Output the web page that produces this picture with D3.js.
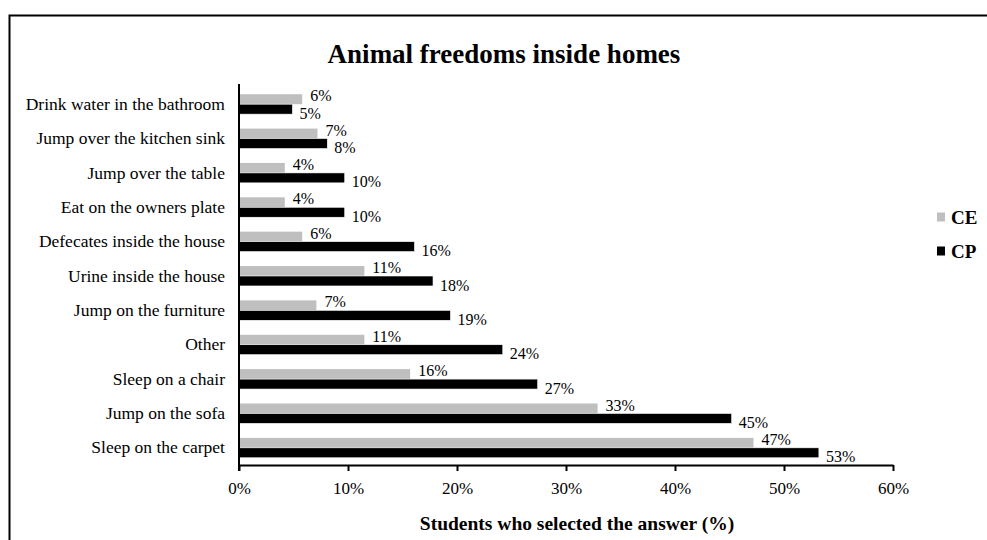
<!DOCTYPE html>
<html>
<head>
<meta charset="utf-8">
<script src="https://cdn.jsdelivr.net/npm/d3@7"></script>
<style>
  html, body { margin: 0; padding: 0; background: #fff; }
  svg { display: block; }
  text { font-family: "Liberation Serif", "Times New Roman", serif; fill: #000; }
</style>
</head>
<body>
<svg id="chart" width="987" height="540"></svg>
<script>
const categories = [
  "Drink water in the bathroom",
  "Jump over the kitchen sink",
  "Jump over the table",
  "Eat on the owners plate",
  "Defecates inside the house",
  "Urine inside the house",
  "Jump on the furniture",
  "Other",
  "Sleep on a chair",
  "Jump on the sofa",
  "Sleep on the carpet"
];
const seriesNames = ["CE", "CP"];
const valuesCE = [5.8, 7.2, 4.2, 4.2, 5.8, 11.5, 7.1, 11.5, 15.7, 32.9, 47.2];
const valuesCP = [4.9, 8.1, 9.7, 9.7, 16.1, 17.8, 19.4, 24.2, 27.4, 45.2, 53.2];
const labelsCE = ["6%", "7%", "4%", "4%", "6%", "11%", "7%", "11%", "16%", "33%", "47%"];
const labelsCP = ["5%", "8%", "10%", "10%", "16%", "18%", "19%", "24%", "27%", "45%", "53%"];
const xTicks = [0, 10, 20, 30, 40, 50, 60];
const tickLabels = ["0%", "10%", "20%", "30%", "40%", "50%", "60%"];
const colors = { CE: "#bfbfbf", CP: "#000000" };

const svg = d3.select("#chart");

// outer frame
svg.append("path")
  .attr("d", "M9.5,540 L9.5,15.5 L987,15.5")
  .attr("fill", "none").attr("stroke", "#000").attr("stroke-width", 2);

const pLeft = 239, pRight = 893, pTop = 87, pBottom = 465;

const x = d3.scaleLinear().domain([0, 60]).range([pLeft, pRight]);
const y = d3.scaleBand().domain(categories).range([pTop, pBottom]).paddingInner(0.42).paddingOuter(0.21);
const sub = d3.scaleBand().domain(seriesNames).range([0, y.bandwidth()]);

// title
svg.append("text")
  .attr("x", 504).attr("y", 63)
  .attr("text-anchor", "middle")
  .attr("font-size", 27).attr("font-weight", "bold")
  .text("Animal freedoms inside homes");

const rows = categories.map((c, i) => ({
  cat: c, ce: valuesCE[i], cp: valuesCP[i], lce: labelsCE[i], lcp: labelsCP[i]
}));

const g = svg.append("g");

// bars
g.selectAll("rect.ce").data(rows).join("rect")
  .attr("class", "ce")
  .attr("x", x(0))
  .attr("y", d => y(d.cat) + sub("CE"))
  .attr("width", d => x(d.ce) - x(0))
  .attr("height", sub.bandwidth())
  .attr("fill", colors.CE);

g.selectAll("rect.cp").data(rows).join("rect")
  .attr("class", "cp")
  .attr("x", x(0))
  .attr("y", d => y(d.cat) + sub("CP"))
  .attr("width", d => x(d.cp) - x(0))
  .attr("height", sub.bandwidth())
  .attr("fill", colors.CP)
  .attr("stroke", "#fff").attr("stroke-width", 0.6);

// value labels
g.selectAll("text.lce").data(rows).join("text")
  .attr("class", "lce")
  .attr("x", d => x(d.ce) + 8)
  .attr("y", d => y(d.cat) + sub("CE") + sub.bandwidth() / 2 - 3.5)
  .attr("dy", "0.35em")
  .attr("font-size", 16)
  .text(d => d.lce);

g.selectAll("text.lcp").data(rows).join("text")
  .attr("class", "lcp")
  .attr("x", d => x(d.cp) + 7)
  .attr("y", d => y(d.cat) + sub("CP") + sub.bandwidth() / 2 + 4)
  .attr("dy", "0.35em")
  .attr("font-size", 16)
  .text(d => d.lcp);

// x axis
const xAxis = d3.axisBottom(x)
  .tickValues(xTicks)
  .tickFormat((d, i) => tickLabels[i])
  .tickSizeInner(6).tickSizeOuter(0).tickPadding(11);
const xa = svg.append("g").attr("transform", `translate(0,${pBottom})`).call(xAxis);
xa.select(".domain").attr("stroke", "#000").attr("stroke-width", 2);
xa.selectAll(".tick line").attr("stroke", "#000").attr("stroke-width", 2);
xa.selectAll(".tick text")
  .attr("font-family", "Liberation Serif, Times New Roman, serif")
  .attr("font-size", 17).attr("fill", "#000");

// y axis
const yAxis = d3.axisLeft(y).tickSize(0).tickPadding(14);
const ya = svg.append("g").attr("transform", `translate(${pLeft},0)`).call(yAxis);
ya.select(".domain").attr("stroke", "#000").attr("stroke-width", 2)
  .attr("d", `M0,${pTop - 3}V${pBottom + 6}`);
ya.selectAll(".tick text")
  .attr("font-family", "Liberation Serif, Times New Roman, serif")
  .attr("font-size", 17.5).attr("fill", "#000");

// axis title
svg.append("text")
  .attr("x", 577).attr("y", 530)
  .attr("text-anchor", "middle")
  .attr("font-size", 19.5).attr("font-weight", "bold")
  .text("Students who selected the answer (%)");

// legend
const legend = svg.append("g");
const legendY = d3.scalePoint().domain(seriesNames).range([217, 251]);
legend.selectAll("rect").data(seriesNames).join("rect")
  .attr("x", 937).attr("y", d => legendY(d) - 4.5)
  .attr("width", 8).attr("height", 9)
  .attr("fill", d => colors[d]);
legend.selectAll("text").data(seriesNames).join("text")
  .attr("x", 951).attr("y", d => legendY(d))
  .attr("dy", "0.35em")
  .attr("font-size", 19).attr("font-weight", "bold")
  .text(d => d);
</script>
</body>
</html>
